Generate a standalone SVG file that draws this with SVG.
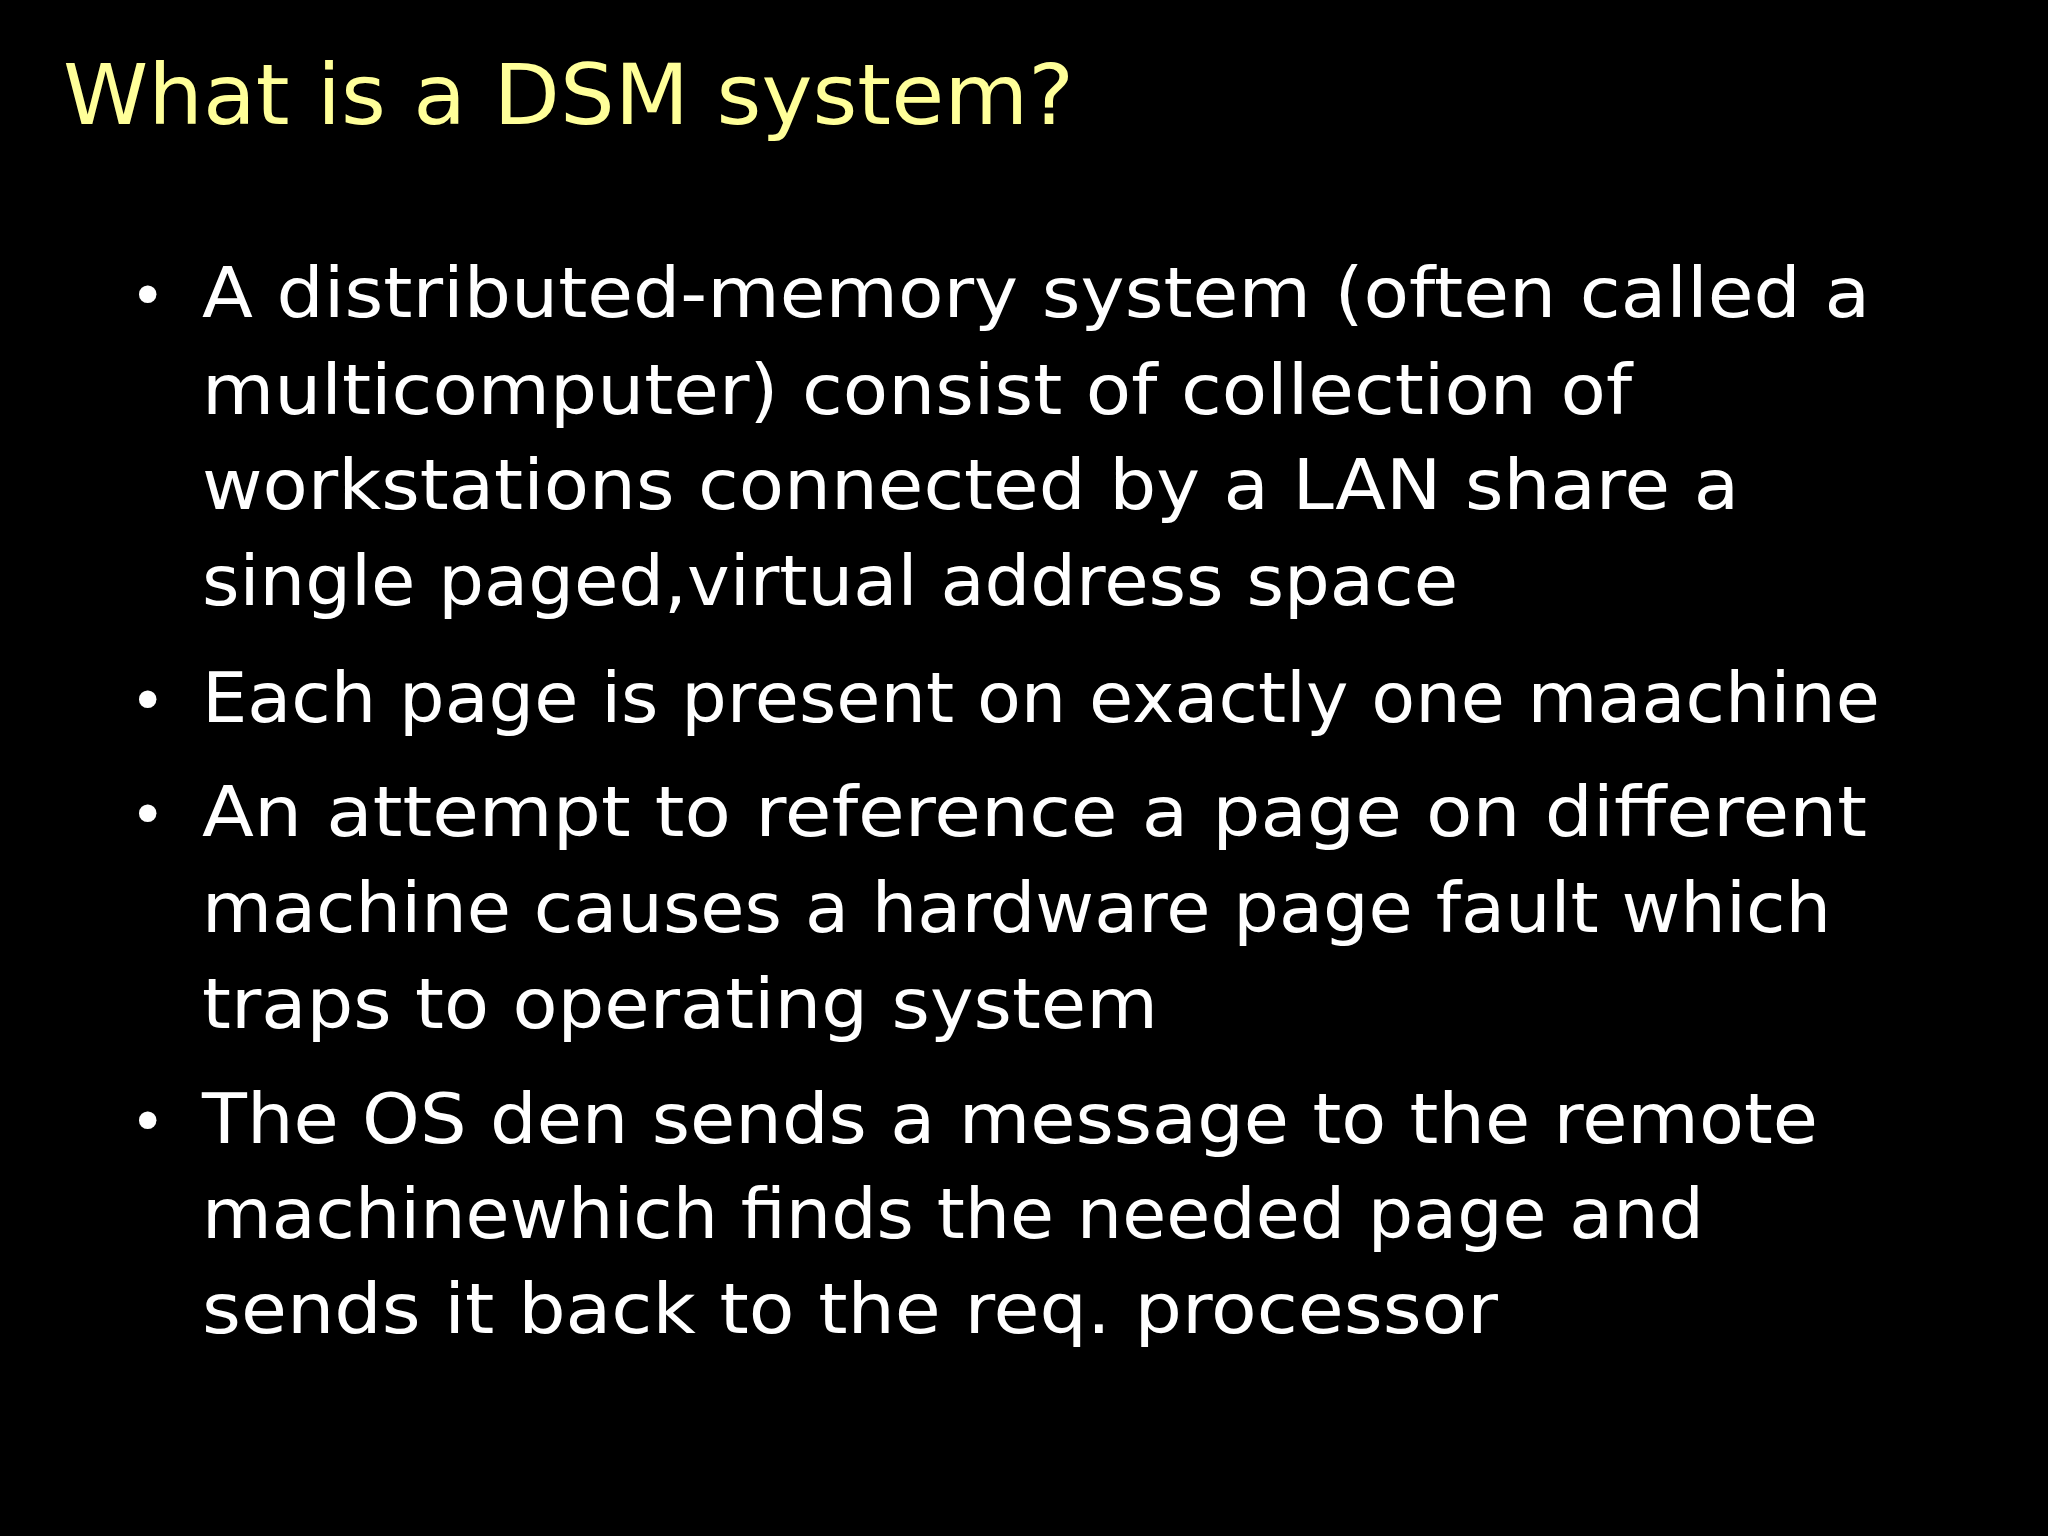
<svg xmlns="http://www.w3.org/2000/svg" width="2048" height="1536" viewBox="0 0 2048 1536">
<style>
.t{font-family:"DejaVu Sans","Liberation Sans",sans-serif;font-size:70px;fill:#ffffff}
.b{font-family:"DejaVu Sans",sans-serif;font-size:60px;fill:#ffffff}
</style>
<rect width="2048" height="1536" fill="#000"/>
<text x="63" y="124" font-family="DejaVu Sans,sans-serif" font-size="84" fill="#ffff99" textLength="1011" lengthAdjust="spacingAndGlyphs">What is a DSM system?</text>
<g id="bullets">
<text class="b" x="130" y="317">•</text>
<text class="b" x="130" y="722">•</text>
<text class="b" x="130" y="836">•</text>
<text class="b" x="130" y="1143">•</text>
</g>
<g id="body">
<text class="t" x="202" y="317" textLength="1668" lengthAdjust="spacingAndGlyphs">A distributed-memory system (often called a</text>
<text class="t" x="202" y="414" textLength="1430" lengthAdjust="spacingAndGlyphs">multicomputer) consist of collection of</text>
<text class="t" x="202" y="509" textLength="1537" lengthAdjust="spacingAndGlyphs">workstations connected by a LAN share a</text>
<text class="t" x="202" y="605" textLength="1256" lengthAdjust="spacingAndGlyphs">single paged,virtual address space</text>
<text class="t" x="202" y="722" textLength="1678" lengthAdjust="spacingAndGlyphs">Each page is present on exactly one maachine</text>
<text class="t" x="202" y="836" textLength="1665" lengthAdjust="spacingAndGlyphs">An attempt to reference a page on different</text>
<text class="t" x="202" y="932" textLength="1629" lengthAdjust="spacingAndGlyphs">machine causes a hardware page fault which</text>
<text class="t" x="202" y="1028" textLength="956" lengthAdjust="spacingAndGlyphs">traps to operating system</text>
<text class="t" x="202" y="1143" textLength="1616" lengthAdjust="spacingAndGlyphs">The OS den sends a message to the remote</text>
<text class="t" x="202" y="1238" textLength="1502" lengthAdjust="spacingAndGlyphs">machinewhich finds the needed page and</text>
<text class="t" x="202" y="1333" textLength="1296" lengthAdjust="spacingAndGlyphs">sends it back to the req. processor</text>
</g>
</svg>
